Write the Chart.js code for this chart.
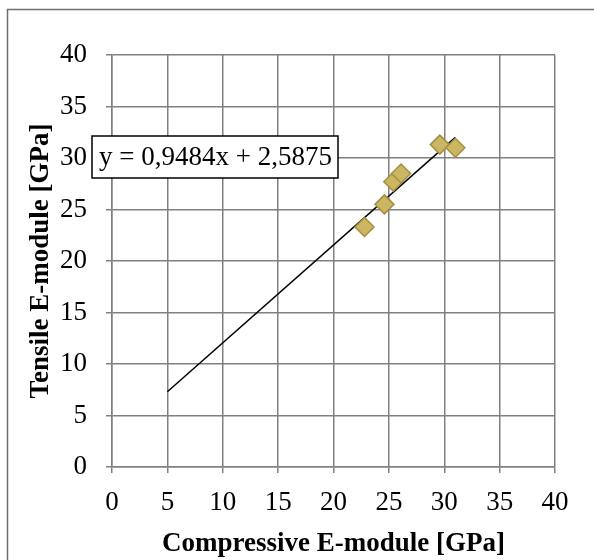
<!DOCTYPE html>
<html>
<head>
<meta charset="utf-8">
<script src="https://cdn.jsdelivr.net/npm/chart.js@4"></script>
<style>
  html, body { margin: 0; padding: 0; background: #fff; }
</style>
</head>
<body>
<canvas id="chart" width="594" height="560"></canvas>
<script>
  // measured points (compressive, tensile) in GPa
  const compressive = [22.8, 24.6, 25.4, 26.1, 29.6, 31.0];
  const tensile = [23.3, 25.5, 27.7, 28.5, 31.3, 31.0];
  // trendline ends as drawn
  const trendX = [5, 31];
  const trendY = [7.3, 32.0];
  const tickValues = [0, 5, 10, 15, 20, 25, 30, 35, 40];
  const equation = 'y = 0,9484x + 2,5875';

  const serif = '"Liberation Serif", "Times New Roman", serif';
  const gridColor = '#808080';

  const frame = {
    id: 'frame',
    beforeDraw(chart) {
      const c = chart.ctx;
      c.save();
      c.fillStyle = '#fff';
      c.fillRect(0, 0, chart.width, chart.height);
      c.strokeStyle = '#6e6e6e';
      c.lineWidth = 1.5;
      c.strokeRect(7.5, 9.5, 700, 700);
      c.restore();
    },
    afterDatasetsDraw(chart) {
      // equation label like Excel's trendline label
      const c = chart.ctx;
      const a = chart.chartArea;
      c.save();
      c.font = '27px ' + serif;
      const x0 = a.left - 20, y0 = 136, h = 42, w = 246;
      c.fillStyle = '#fff';
      c.fillRect(x0, y0, w, h);
      c.strokeStyle = '#000';
      c.lineWidth = 1.5;
      c.strokeRect(x0, y0, w, h);
      c.fillStyle = '#000';
      c.textBaseline = 'middle';
      c.fillText(equation, x0 + 7, y0 + h / 2 + 1);
      c.restore();
    }
  };

  new Chart(document.getElementById('chart'), {
    type: 'scatter',
    data: {
      datasets: [
        {
          label: 'E-module',
          data: compressive.map((x, i) => ({ x, y: tensile[i] })),
          pointStyle: 'rectRot',
          pointRadius: 9.5,
          backgroundColor: '#cbb664',
          borderColor: '#a38f40',
          borderWidth: 1.5
        },
        {
          label: 'Trend',
          type: 'line',
          data: trendX.map((x, i) => ({ x, y: trendY[i] })),
          borderColor: '#000',
          borderWidth: 1.5,
          pointRadius: 0,
          fill: false
        }
      ]
    },
    options: {
      responsive: false,
      animation: false,
      layout: { padding: { top: 55, right: 39, left: 0, bottom: 0 } },
      plugins: { legend: { display: false }, tooltip: { enabled: false } },
      scales: {
        x: {
          type: 'linear',
          min: 0, max: 40,
          afterBuildTicks: s => { s.ticks = tickValues.map(v => ({ value: v })); },
          afterFit: s => { s.height = 93; },
          grid: { color: gridColor, lineWidth: 1.5, tickLength: 6 },
          border: { color: gridColor, width: 1.5 },
          ticks: { color: '#000', font: { family: serif, size: 27 }, padding: 14, maxRotation: 0 },
          title: {
            display: true,
            text: 'Compressive E-module [GPa]',
            color: '#000',
            font: { family: serif, size: 27, weight: 'bold' },
            padding: { top: 0, bottom: 0 }
          }
        },
        y: {
          type: 'linear',
          min: 0, max: 40,
          afterBuildTicks: s => { s.ticks = tickValues.map(v => ({ value: v })); },
          afterFit: s => { s.width = 112; },
          grid: { color: gridColor, lineWidth: 1.5, tickLength: 6 },
          border: { color: gridColor, width: 1.5 },
          ticks: { color: '#000', font: { family: serif, size: 27 }, padding: 19 },
          title: {
            display: true,
            text: 'Tensile E-module [GPa]',
            color: '#000',
            font: { family: serif, size: 27, weight: 'bold' },
            padding: { top: 25, bottom: 0 }
          }
        }
      }
    },
    plugins: [frame]
  });
</script>
</body>
</html>
